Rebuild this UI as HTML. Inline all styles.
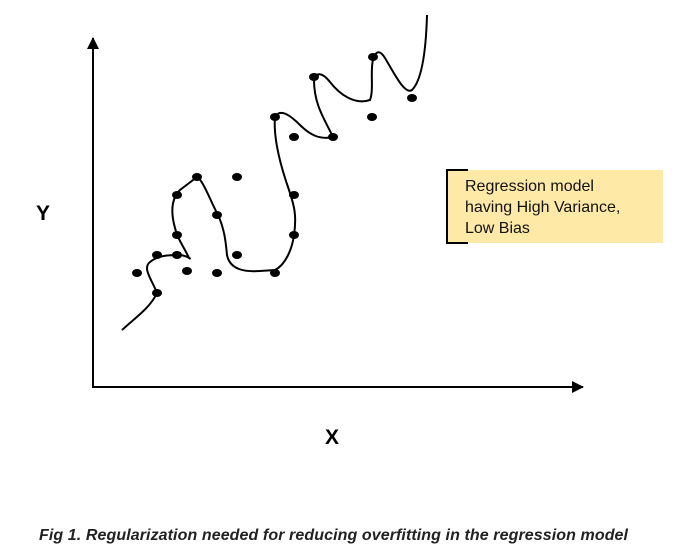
<!DOCTYPE html>
<html><head><style>
body{margin:0;background:#fff;width:691px;height:557px;overflow:hidden;font-family:"Liberation Sans",sans-serif;}
</style></head><body>
<svg width="691" height="557" xmlns="http://www.w3.org/2000/svg" style="position:absolute;left:0;top:0">
<defs>
<marker id="b" markerWidth="12" markerHeight="14" refX="11" refY="6" orient="auto" markerUnits="userSpaceOnUse">
<path d="M0,0 L12,6 L0,12 z" fill="#000"/></marker></defs>
<line x1="93" y1="388" x2="93" y2="38" stroke="#000" stroke-width="2" marker-end="url(#b)"/>
<line x1="92" y1="387" x2="583" y2="387" stroke="#000" stroke-width="2" marker-end="url(#b)"/>
<path d="M122,330 C135,318 150,308 157,293 C152,280 142,268 150,262 C158,255 170,255 180,255 C188,256 192,260 189,258 C183,245 178,240 175,228 C170,210 172,198 180,190 L197,177 C203,180 210,200 218,215 C225,230 226,245 227,255 C230,270 245,272 260,271 L275,270 C285,265 292,250 294,235 C297,215 294,205 289,190 C282,170 273,140 275,117 C280,108 290,115 300,125 C310,135 320,140 333,137 C325,120 314,105 314,80 C316,72 322,72 330,82 C340,95 355,105 370,100 C374,90 370,70 373,60 C376,50 380,50 385,58 C395,75 405,95 412,90 C422,80 426,50 427,15" fill="none" stroke="#000" stroke-width="2"/>
<g fill="#000">
<ellipse cx="137" cy="273" rx="5" ry="4"/><ellipse cx="157" cy="293" rx="5" ry="4"/>
<ellipse cx="157" cy="255" rx="5" ry="4"/><ellipse cx="177" cy="255" rx="5" ry="4"/>
<ellipse cx="187" cy="271" rx="5" ry="4"/><ellipse cx="177" cy="235" rx="5" ry="4"/>
<ellipse cx="177" cy="195" rx="5" ry="4"/><ellipse cx="197" cy="177" rx="5" ry="4"/>
<ellipse cx="217" cy="215" rx="5" ry="4"/><ellipse cx="237" cy="177" rx="5" ry="4"/>
<ellipse cx="217" cy="273" rx="5" ry="4"/><ellipse cx="237" cy="255" rx="5" ry="4"/>
<ellipse cx="275" cy="273" rx="5" ry="4"/><ellipse cx="294" cy="195" rx="5" ry="4"/>
<ellipse cx="294" cy="235" rx="5" ry="4"/><ellipse cx="294" cy="137" rx="5" ry="4"/>
<ellipse cx="275" cy="117" rx="5" ry="4"/><ellipse cx="314" cy="77" rx="5" ry="4"/>
<ellipse cx="333" cy="137" rx="5" ry="4"/><ellipse cx="372" cy="117" rx="5" ry="4"/>
<ellipse cx="373" cy="57" rx="5" ry="4"/><ellipse cx="412" cy="98" rx="5" ry="4"/>
</g>
<rect x="447" y="170" width="216" height="73" fill="#fee9a6"/>
<path d="M468,170 L447,170 L447,243 L468,243" fill="none" stroke="#000" stroke-width="2"/>
<text x="465" y="191" font-size="16" fill="#111">Regression model</text>
<text x="465" y="212" font-size="16" fill="#111">having High Variance,</text>
<text x="465" y="233" font-size="16" fill="#111">Low Bias</text>
<text x="36" y="220" font-size="21" font-weight="bold">Y</text>
<text x="325" y="444" font-size="21" font-weight="bold">X</text>
<text x="39" y="540" font-size="16" font-weight="bold" font-style="italic" fill="#222" textLength="589">Fig 1. Regularization needed for reducing overfitting in the regression model</text>
</svg>
</body></html>
